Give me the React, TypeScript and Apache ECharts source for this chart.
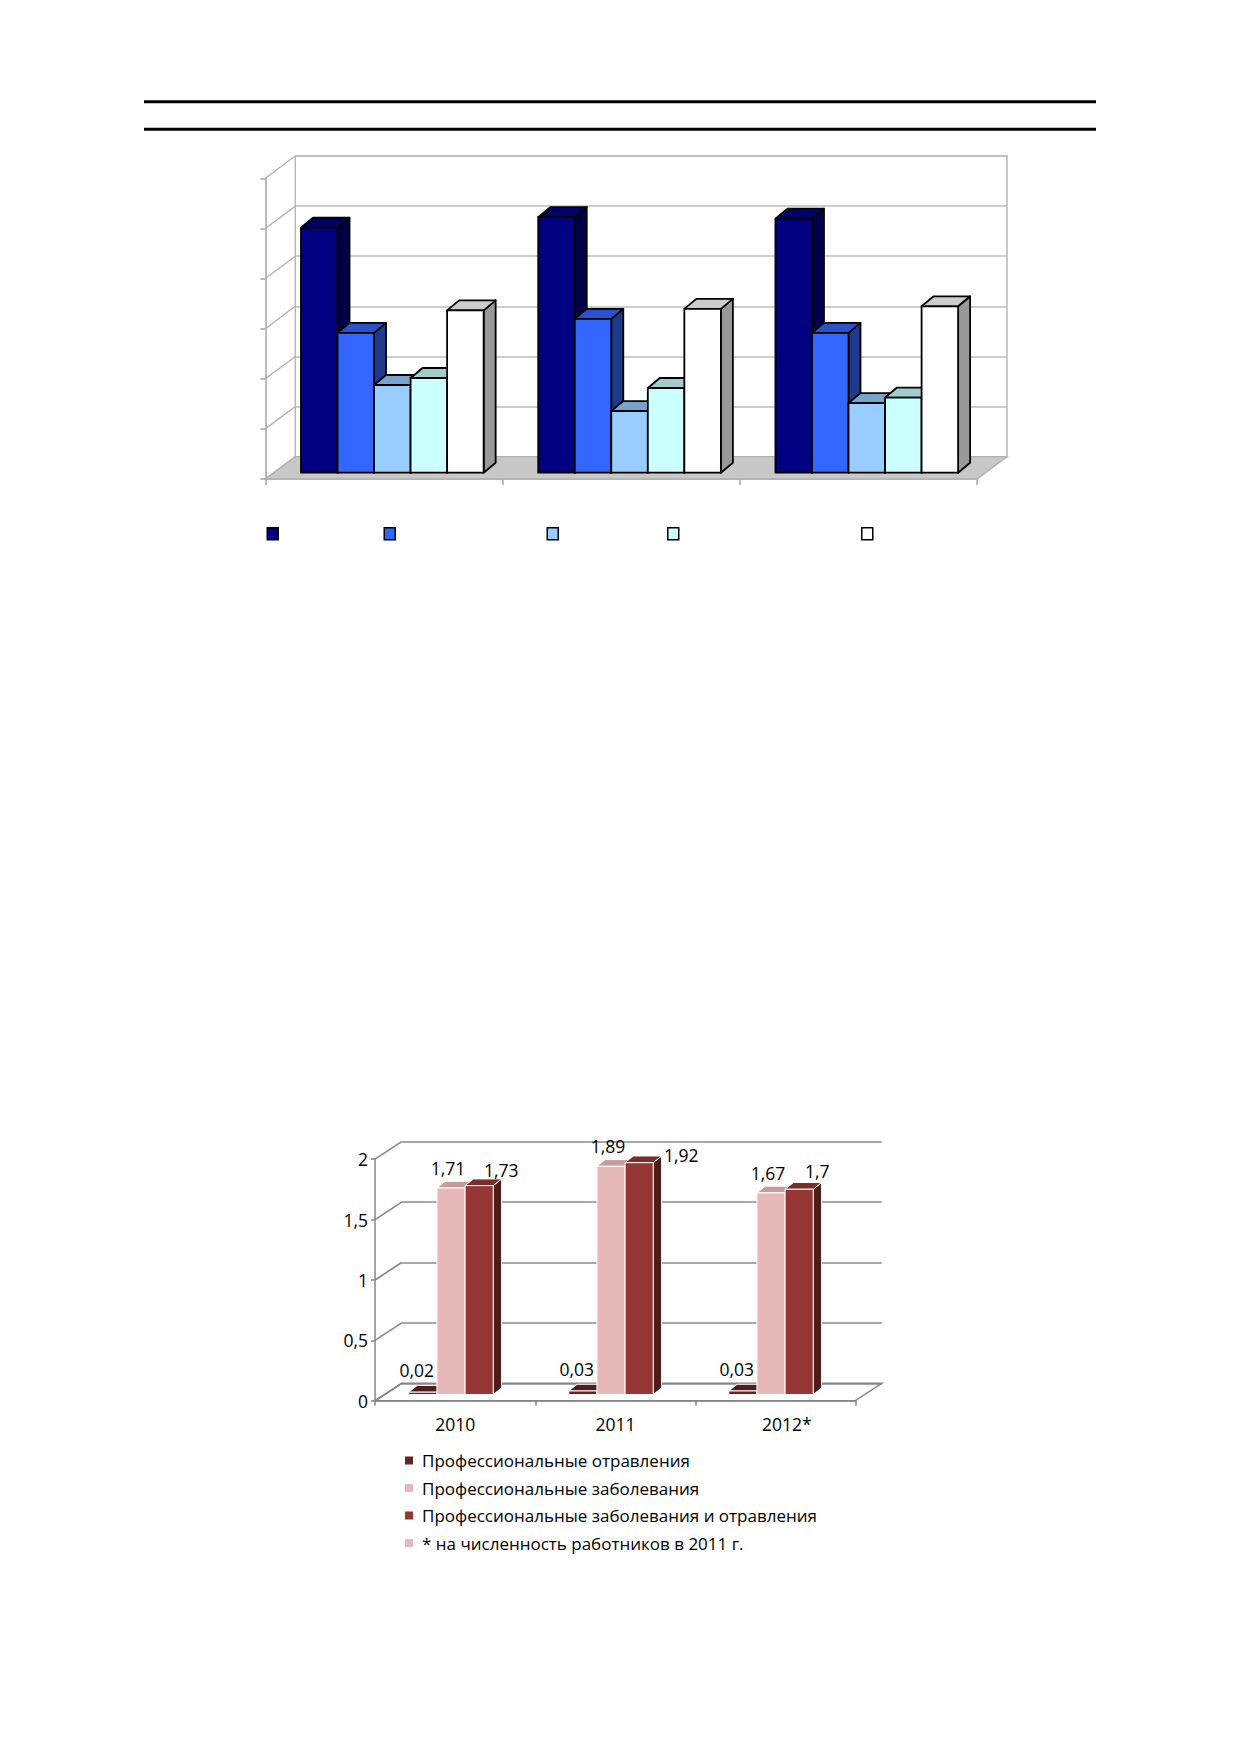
import React, { useEffect, useRef } from 'react';
import * as echarts from 'echarts';

// ---------- data: top chart (no visible labels in the reference) ----------
const topCategories = ['Период 1', 'Период 2', 'Период 3'];
const topSeriesNames = ['Ряд 1', 'Ряд 2', 'Ряд 3', 'Ряд 4', 'Ряд 5'];
const topSeries1 = [4.89, 5.1, 5.07];
const topSeries2 = [2.79, 3.07, 2.79];
const topSeries3 = [1.75, 1.23, 1.39];
const topSeries4 = [1.89, 1.69, 1.5];
const topSeries5 = [3.24, 3.27, 3.32];
const topAxisMin = 0;
const topAxisMax = 6;
const topAxisInterval = 1;

// ---------- data: bottom chart ----------
const years = ['2010', '2011', '2012*'];
const poisonings = [0.02, 0.03, 0.03];
const diseases = [1.71, 1.89, 1.67];
const diseasesAndPoisonings = [1.73, 1.92, 1.7];
const bottomNames = [
  'Профессиональные отравления',
  'Профессиональные заболевания',
  'Профессиональные заболевания и отравления',
  '* на численность работников в 2011 г.',
];
const bottomAxisMin = 0;
const bottomAxisMax = 2;
const bottomAxisInterval = 0.5;

const FONT = '"Open Sans", "Noto Sans", sans-serif';
const comma = (v: number) => String(v).replace('.', ',');

// ---------- styles ----------
const topColors = [
  { front: '#000080', top: '#000066', side: '#00004a' },
  { front: '#3366ff', top: '#2a52cc', side: '#1f3a8c' },
  { front: '#99ccff', top: '#7aa3cc', side: '#5c7a99' },
  { front: '#ccffff', top: '#a3cccc', side: '#7a9999' },
  { front: '#ffffff', top: '#cccccc', side: '#999999' },
];
const bottomColors = [
  { front: '#632523', top: '#4f1d1c', side: '#3a1514' },
  { front: '#e6b9b8', top: '#c49c9b', side: '#a88584' },
  { front: '#953735', top: '#7a2d2b', side: '#4e1c1b' },
  { front: '#e6b9b8', top: '#c49c9b', side: '#a88584' },
];
// label placement (style): per series base offset, plus per-category nudges
const labelOffsets = [
  { lx: -6, ly: 22 },
  { lx: -3, ly: 20 },
  { lx: 22, ly: 16 },
];
const labelNudges = [
  [[0, 0], [0, 0], [0, 0]],
  [[0, 0], [0, 0], [0, 0]],
  [[0, 0], [20, 8], [-4, -2]],
];

type BarCfg = {
  index: number;
  count: number;
  barFrac: number;
  shift: number;
  fx: number;
  fy: number;
  dx: number;
  dy: number;
  colors: { front: string; top: string; side: string };
  stroke: string;
  lineWidth: number;
  label?: { lx: number; ly: number; nudges: number[][] };
};

function bar3d(cfg: BarCfg) {
  return (params: any, api: any) => {
    const c = api.value(0);
    const v = api.value(1);
    const base = api.coord([c, 0]);
    const topP = api.coord([c, v]);
    const catW = api.size([1, 0])[0];
    const bw = catW * cfg.barFrac;
    const left = base[0] + (cfg.index - cfg.count / 2) * bw + cfg.shift + cfg.fx;
    const yb = base[1] + cfg.fy;
    const yt = topP[1] + cfg.fy;
    const { dx, dy } = cfg;
    const st = { stroke: cfg.stroke, lineWidth: cfg.lineWidth, lineJoin: 'round' };
    const children: any[] = [
      {
        type: 'polygon',
        shape: { points: [[left + bw, yt], [left + bw + dx, yt + dy], [left + bw + dx, yb + dy], [left + bw, yb]] },
        style: { fill: cfg.colors.side, ...st },
      },
      {
        type: 'polygon',
        shape: { points: [[left, yt], [left + bw, yt], [left + bw + dx, yt + dy], [left + dx, yt + dy]] },
        style: { fill: cfg.colors.top, ...st },
      },
      {
        type: 'rect',
        shape: { x: left, y: yt, width: bw, height: yb - yt },
        style: { fill: cfg.colors.front, ...st },
      },
    ];
    if (cfg.label) {
      const n = cfg.label.nudges[params.dataIndex] || [0, 0];
      children.push({
        type: 'text',
        style: {
          text: comma(v),
          x: left + bw / 2 + cfg.label.lx + n[0],
          y: yt - cfg.label.ly + n[1],
          align: 'center',
          verticalAlign: 'middle',
          fontSize: 17.5,
          fontFamily: FONT,
          fill: '#000',
        },
      });
    }
    return { type: 'group', children };
  };
}

function frame(opts: {
  dx: number;
  dy: number;
  min: number;
  max: number;
  step: number;
  floorFill: string;
  color: string;
  width: number;
}) {
  return (params: any, api: any) => {
    const cs = params.coordSys;
    const x0 = cs.x;
    const x1 = cs.x + cs.width;
    const yb = cs.y + cs.height;
    const { dx, dy } = opts;
    const ls = { stroke: opts.color, lineWidth: opts.width };
    const children: any[] = [
      {
        type: 'polygon',
        shape: { points: [[x0, yb], [x1, yb], [x1 + dx, yb + dy], [x0 + dx, yb + dy]] },
        style: { fill: opts.floorFill, ...ls },
      },
    ];
    for (let v = opts.min; v <= opts.max + 1e-9; v += opts.step) {
      const p = api.coord([0, v]);
      children.push({
        type: 'line',
        shape: { x1: x0, y1: p[1], x2: x0 + dx, y2: p[1] + dy },
        style: ls,
      });
    }
    return { type: 'group', children };
  };
}

const topGridBack = { left: 295.3, top: 156, width: 711.7, height: 300.7 };
const topDepth = { dx: -30, dy: 22.3 };
const botGridBack = { left: 401.7, top: 1141.7, width: 480, height: 241.6 };
const botDepth = { dx: -26.7, dy: 17.5 };

const topSeriesData = [topSeries1, topSeries2, topSeries3, topSeries4, topSeries5];
const bottomSeriesData = [poisonings, diseases, diseasesAndPoisonings];
const topLegendCenters = [272, 389, 552, 672.5, 866.5];

export default function App() {
  const ref = useRef<HTMLDivElement>(null);
  useEffect(() => {
    if (!ref.current) return;
    const chart = echarts.init(ref.current, undefined, { renderer: 'svg' });

    const hiddenCat = (data: string[], gridIndex: number) => ({
      type: 'category',
      gridIndex,
      data,
      axisLine: { show: false },
      axisTick: { show: false },
      axisLabel: { show: false },
      splitLine: { show: false },
    });

    const topBars = topSeriesData.map((vals, i) => ({
      type: 'custom',
      name: topSeriesNames[i],
      xAxisIndex: 0,
      yAxisIndex: 0,
      z: 3,
      silent: true,
      data: vals.map((v, c) => [c, v]),
      itemStyle: { color: topColors[i].front, borderColor: '#000', borderWidth: 1.5 },
      renderItem: bar3d({
        index: i,
        count: 5,
        barFrac: 0.154,
        shift: 0,
        fx: -21.6,
        fy: 16,
        dx: 12,
        dy: -10,
        colors: topColors[i],
        stroke: '#000',
        lineWidth: 1.8,
      }),
    }));

    const bottomBars = bottomSeriesData.map((vals, i) => ({
      type: 'custom',
      name: bottomNames[i],
      xAxisIndex: 2,
      yAxisIndex: 2,
      z: 3,
      silent: true,
      data: vals.map((v, c) => [c, v]),
      itemStyle: { color: bottomColors[i].front },
      renderItem: bar3d({
        index: i,
        count: 3,
        barFrac: 0.176,
        shift: -13.5,
        fx: -17.2,
        fy: 11.3,
        dx: 8.3,
        dy: -6.7,
        colors: bottomColors[i],
        stroke: '#ffffff',
        lineWidth: 1,
        label: { ...labelOffsets[i], nudges: labelNudges[i] },
      }),
    }));

    const topLegends = topSeriesNames.map((name, i) => ({
      show: true,
      selectedMode: false,
      left: topLegendCenters[i] - 5.5,
      top: 527,
      padding: 0,
      itemWidth: 11,
      itemHeight: 12,
      icon: 'rect',
      formatter: () => '',
      data: [
        {
          name,
          icon: 'rect',
          itemStyle: { color: topColors[i].front, borderColor: '#000', borderWidth: 1.5 },
        },
      ],
    }));

    const option: any = {
      animation: false,
      backgroundColor: '#ffffff',
      textStyle: { fontFamily: FONT },
      graphic: [
        { type: 'rect', shape: { x: 144, y: 100.2, width: 952, height: 3 }, style: { fill: '#000' } },
        { type: 'rect', shape: { x: 144, y: 127.8, width: 952, height: 3 }, style: { fill: '#000' } },
      ],
      legend: [
        ...topLegends,
        {
          show: true,
          selectedMode: false,
          orient: 'vertical',
          left: 405,
          top: 1452,
          padding: 0,
          itemWidth: 8,
          itemHeight: 8,
          itemGap: 10.5,
          icon: 'rect',
          textStyle: { fontSize: 17, color: '#000', fontFamily: FONT, padding: [0, 0, 0, 4] },
          data: bottomNames.map((name, i) => ({
            name,
            icon: 'rect',
            itemStyle: { color: bottomColors[i].front, borderWidth: 0 },
          })),
        },
      ],
      grid: [
        { ...topGridBack, show: true, borderColor: '#b8b8b8', borderWidth: 1.5, backgroundColor: 'transparent' },
        {
          left: topGridBack.left + topDepth.dx,
          top: topGridBack.top + topDepth.dy,
          width: topGridBack.width,
          height: topGridBack.height,
        },
        { ...botGridBack },
        {
          left: botGridBack.left + botDepth.dx,
          top: botGridBack.top + botDepth.dy,
          width: botGridBack.width + 1,
          height: botGridBack.height,
        },
      ],
      xAxis: [
        hiddenCat(topCategories, 0),
        {
          type: 'category',
          gridIndex: 1,
          data: topCategories,
          axisLine: { show: true, lineStyle: { color: '#a6a6a6', width: 1.5 } },
          axisTick: { show: true, length: 6, lineStyle: { color: '#a6a6a6', width: 1.5 } },
          axisLabel: { show: false },
          splitLine: { show: false },
        },
        hiddenCat(years, 2),
        {
          type: 'category',
          gridIndex: 3,
          data: years,
          axisLine: { show: true, lineStyle: { color: '#868686', width: 1.5 } },
          axisTick: { show: true, length: 5, lineStyle: { color: '#868686', width: 1.5 } },
          axisLabel: {
            show: true,
            fontSize: 17.5,
            color: '#000',
            margin: 14,
            fontFamily: FONT,
            formatter: (v: string) => (v.endsWith('*') ? `{s|${v}}` : v),
            rich: { s: { fontSize: 17.5, fontFamily: FONT, color: '#000', padding: [0, 0, 0, 22] } },
          },
          splitLine: { show: false },
        },
      ],
      yAxis: [
        {
          type: 'value',
          gridIndex: 0,
          min: topAxisMin,
          max: topAxisMax,
          interval: topAxisInterval,
          axisLine: { show: false },
          axisTick: { show: false },
          axisLabel: { show: false },
          splitLine: { show: true, lineStyle: { color: '#bdbdbd', width: 1.5 } },
        },
        {
          type: 'value',
          gridIndex: 1,
          min: topAxisMin,
          max: topAxisMax,
          interval: topAxisInterval,
          axisLine: { show: true, lineStyle: { color: '#a6a6a6', width: 1.5 } },
          axisTick: { show: true, length: 5, lineStyle: { color: '#a6a6a6', width: 1.5 } },
          axisLabel: { show: false },
          splitLine: { show: false },
        },
        {
          type: 'value',
          gridIndex: 2,
          min: bottomAxisMin,
          max: bottomAxisMax,
          interval: bottomAxisInterval,
          axisLine: { show: false },
          axisTick: { show: false },
          axisLabel: { show: false },
          splitLine: { show: true, lineStyle: { color: '#8a8a8a', width: 1.6 } },
        },
        {
          type: 'value',
          gridIndex: 3,
          min: bottomAxisMin,
          max: bottomAxisMax,
          interval: bottomAxisInterval,
          axisLine: { show: true, lineStyle: { color: '#868686', width: 1.5 } },
          axisTick: { show: true, length: 4, lineStyle: { color: '#868686', width: 1.5 } },
          axisLabel: {
            show: true,
            fontSize: 17.5,
            color: '#000',
            margin: 7,
            fontFamily: FONT,
            formatter: (v: number) => comma(v),
          },
          splitLine: { show: false },
        },
      ],
      series: [
        {
          type: 'custom',
          name: 'frameTop',
          xAxisIndex: 0,
          yAxisIndex: 0,
          z: 1,
          silent: true,
          data: [[0, 0]],
          renderItem: frame({
            dx: topDepth.dx,
            dy: topDepth.dy,
            min: topAxisMin,
            max: topAxisMax,
            step: topAxisInterval,
            floorFill: '#c8c8c8',
            color: '#b0b0b0',
            width: 1.3,
          }),
        },
        ...topBars,
        {
          type: 'custom',
          name: 'frameBottom',
          xAxisIndex: 2,
          yAxisIndex: 2,
          z: 1,
          silent: true,
          data: [[0, 0]],
          renderItem: frame({
            dx: botDepth.dx,
            dy: botDepth.dy,
            min: bottomAxisMin,
            max: bottomAxisMax,
            step: bottomAxisInterval,
            floorFill: 'rgba(255,255,255,0)',
            color: '#868686',
            width: 1.6,
          }),
        },
        ...bottomBars,
        {
          type: 'custom',
          name: bottomNames[3],
          xAxisIndex: 2,
          yAxisIndex: 2,
          silent: true,
          data: [],
          itemStyle: { color: bottomColors[3].front },
          renderItem: () => ({ type: 'group', children: [] }),
        },
      ],
    };
    chart.setOption(option);
    return () => chart.dispose();
  }, []);

  return (
    <div
      ref={ref}
      style={{ position: 'absolute', left: 0, top: 0, width: 1239, height: 1754, background: '#fff' }}
    />
  );
}
